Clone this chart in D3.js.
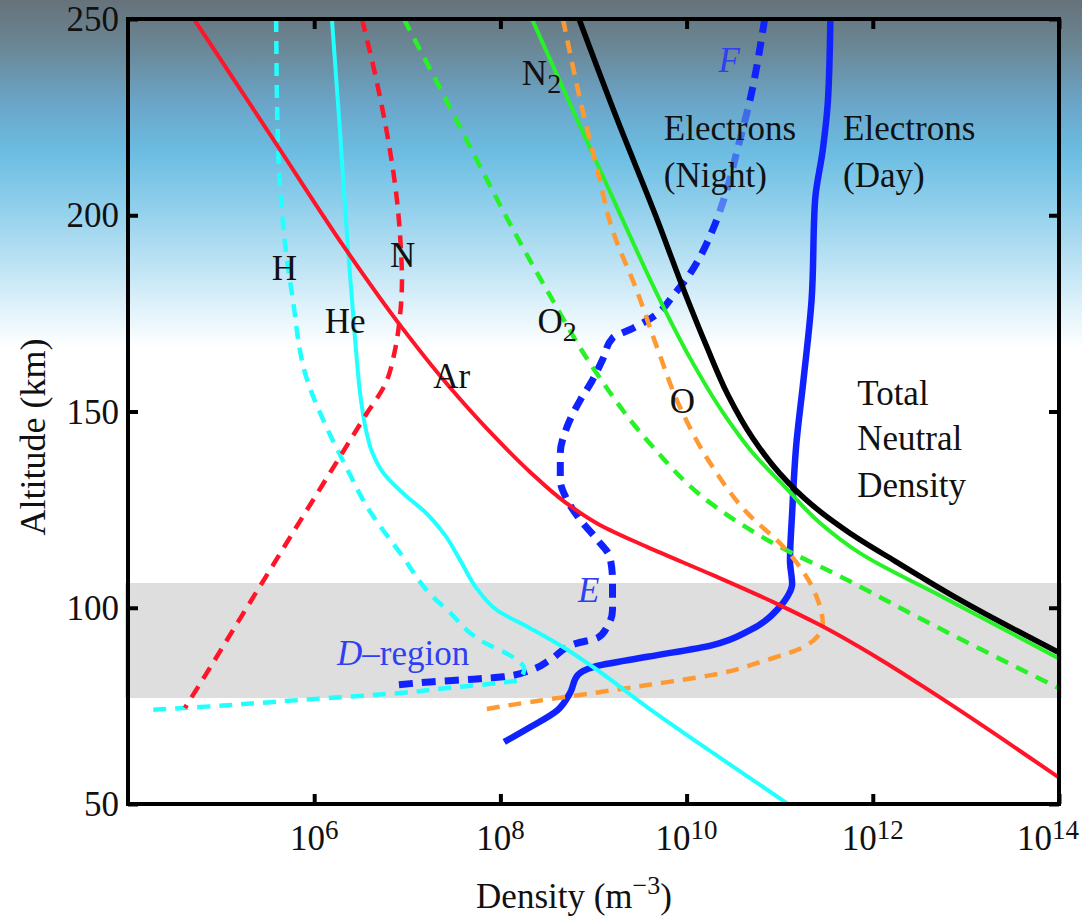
<!DOCTYPE html>
<html><head><meta charset="utf-8">
<script src="https://cdn.jsdelivr.net/npm/d3@7"></script>
<style>
body{margin:0;background:#fff}
svg{display:block}
svg text{font-family:"Liberation Serif","Times New Roman",Times,"DejaVu Serif",serif;fill:#111}
</style>
</head><body>
<svg id="chart" width="1082" height="919" font-family="Liberation Serif, Times New Roman, serif"></svg>
<script>
// ---------------- DATA (altitude km, density m^-3) ----------------
const hAlt  = [250,216.6,201.3,188.6,179.7,158.0,145.3,135.9,125.7,113.9,102.7,99.4,91.8,87.2,84.6,81.6,80.8,79.6,78.3,76.5,74.7,73.9];
const hDens = [3.9e5,4.1e5,4.5e5,5.1e5,5.8e5,8.4e5,1.4e6,2.2e6,3.7e6,8.4e6,1.9e7,2.7e7,6.0e7,1.4e8,1.8e8,1.6e8,9.2e7,2.9e7,8.4e6,7.0e5,5.9e4,1.6e4];

const heAlt  = [250,221.7,191.1,178.4,165.7,152.9,145.3,139.7,133.8,128.7,124.4,118.5,112.2,104.5,99.4,94.8,90.0,84.9,74.7,63.0,50];
const heDens = [1.55e6,1.89e6,2.31e6,2.55e6,2.81e6,3.18e6,3.6e6,4.18e6,5.75e6,9.44e6,1.55e7,2.54e7,3.68e7,5.74e7,9.18e7,2.08e8,4.7e8,9.89e8,3.76e9,1.92e10,1.23e11];

const nAlt  = [250,233.7,220.9,203.9,191.1,183.5,174.6,165.7,156.8,149.6,136.4,122.9,109.6,96.4,83.1,74.5];
const nDens = [3.26e6,4.73e6,6.05e6,7.74e6,8.55e6,8.77e6,8.36e6,7.38e6,5.75e6,3.69e6,1.67e6,7.4e5,3.35e5,1.52e5,6.89e4,4.09e4];

const arAlt  = [250,217.9,191.6,172.0,157.0,144.8,134.6,126.9,121.1,115.5,108.3,101.0,95.6,86.9,78.3,56.9];
const arDens = [5.1e4,3.98e5,2.14e6,8.36e6,2.67e7,7.73e7,2.08e8,4.94e8,1.17e9,3.76e9,1.92e10,9.35e10,2.71e11,1.19e12,4.44e12,9.75e13];

const o2Alt  = [250,229.9,212.5,196.5,180.9,159.6,142.7,126.2,115.5,108.9,95.6,79.6];
const o2Dens = [9.2e6,2.54e7,6.04e7,1.36e8,3.16e8,1.09e9,3.76e9,1.92e10,1.01e11,3.74e11,4.44e12,9.75e13];

const oAlt  = [250,229.4,211.5,196.2,181.0,166.4,151.1,135.9,124.1,115.5,102.7,96.1,92.5,89.7,86.7,82.9,80.3,77.8,76.0,73.9];
const oDens = [4.7e8,7.2e8,1.1e9,1.6e9,2.9e9,4.8e9,8.5e9,1.9e10,4.5e10,1.1e11,2.5e11,2.9e11,2.5e11,1.7e11,7.3e10,1.9e10,3.8e9,7.2e8,2.1e8,6.0e7];

const n2Alt  = [250,225.0,200.3,178.4,163.6,150.1,139.7,130.8,121.6,113.9,102.7,87.2];
const n2Dens = [2.18e8,6.49e8,1.93e9,5.18e9,1.09e10,2.4e10,5.04e10,1.14e11,2.71e11,7.28e11,5.68e12,9.75e13];

const totAlt  = [250,224.5,200.3,180.2,166.9,154.2,143.5,134.1,126.2,119.0,111.9,102.0,88.7];
const totDens = [7.0e8,1.79e9,4.58e9,9.6e9,1.62e10,2.78e10,5.04e10,1.01e11,2.22e11,5.69e11,1.73e12,8.65e12,9.75e13];

const nightAlt  = [250,229.4,216.6,206.4,196.2,189.5,185.3,179.4,174.8,171.3,168.7,163.4,157.7,152.9,146.1,139.4,132.5,127.5,122.4,117.3,112.9,107.1,99.4,95.1,92.3,91.0,86.7,84.1,82.4,81.8,81.1,80.3];
const nightDens = [6.9e10,4.8e10,3.5e10,2.7e10,1.9e10,1.4e10,1.1e10,7.1e9,4.8e9,2.7e9,1.6e9,1.26e9,9.6e8,7.2e8,5.2e8,4.4e8,4.4e8,5.2e8,7.2e8,1.1e9,1.5e9,1.6e9,1.6e9,1.4e9,1.1e9,6.7e8,3.4e8,2.1e8,1.07e8,5.1e7,1.75e7,7.7e6];

const dayAlt  = [250,229.4,216.6,203.9,178.4,158.0,141.0,124.1,112.0,106.0,102.7,100.2,94.3,90.5,87.5,84.9,82.9,78.3,73.9,69.6,65.8];
const dayDens = [3.5e11,3.3e11,2.9e11,2.4e11,2.2e11,1.8e11,1.5e11,1.36e11,1.29e11,1.36e11,1.2e11,1.0e11,4.8e10,1.9e10,3.8e9,9.9e8,6.8e8,5.6e8,4.1e8,2.1e8,1.1e8];

const xTicks = [1e6,1e8,1e10,1e12,1e14];
const xTickExp = ["6","8","10","12","14"];
const yTicks = [50,100,150,200,250];
const dRegion = [77.0,106.3];

// ---------------- LAYOUT ----------------
const FONT = '"Liberation Serif","Times New Roman",Times,"DejaVu Serif",serif';
const W = 1082, H = 919;
const L = 128, R = 1059, T = 19, B = 804;
const svg = d3.select("#chart");
const x = d3.scaleLog().domain([1e4,1e14]).range([L,R]);
const y = d3.scaleLinear().domain([50,250]).range([B,T]);

const defs = svg.append("defs");
const g = defs.append("linearGradient").attr("id","sky").attr("x1",0).attr("y1",0).attr("x2",0).attr("y2",1);
[[0,"#66727a"],[0.13,"#6a8694"],[0.3,"#6aa6c9"],[0.44,"#6cbde2"],[0.6,"#92d0ec"],[0.76,"#bde3f4"],[0.9,"#e4f4fb"],[1,"#ffffff"]]
 .forEach(([o,c])=>g.append("stop").attr("offset",o).attr("stop-color",c));
defs.append("clipPath").attr("id","plotclip").append("rect").attr("x",L).attr("y",T).attr("width",R-L).attr("height",B-T);
const m = defs.append("mask").attr("id","nightmask").attr("maskUnits","userSpaceOnUse").attr("x",0).attr("y",0).attr("width",W).attr("height",H);
m.append("rect").attr("width",W).attr("height",H).attr("fill","#fff");
m.append("rect").attr("x",656).attr("y",104).attr("width",150).attr("height",110).attr("fill","#777");

svg.append("rect").attr("width",W).attr("height",H).attr("fill","#fff");
svg.append("rect").attr("width",W).attr("height",348).attr("fill","url(#sky)");

// D-region band
svg.append("rect").attr("x",L-3).attr("width",R-L+6)
  .attr("y",y(dRegion[1])).attr("height",y(dRegion[0])-y(dRegion[1])).attr("fill","#dedede");

const plot = svg.append("g").attr("clip-path","url(#plotclip)");
const line = d3.line().x(d=>x(d[1])).y(d=>y(d[0])).curve(d3.curveMonotoneY);
const zip = (a,b)=>a.map((v,i)=>[v,b[i]]);

const series = [
  {alt:nightAlt,dens:nightDens,color:"#1023ff",w:7,dash:"14,9",mask:true},
  {alt:dayAlt,dens:dayDens,color:"#1023ff",w:6.5},
  {alt:totAlt,dens:totDens,color:"#000",w:5.5},
  {alt:n2Alt,dens:n2Dens,color:"#27f227",w:4},
  {alt:o2Alt,dens:o2Dens,color:"#27f227",w:4.5,dash:"13,9"},
  {alt:oAlt,dens:oDens,color:"#ff9a33",w:4.5,dash:"13,9"},
  {alt:hAlt,dens:hDens,color:"#22ffff",w:4.5,dash:"13,9"},
  {alt:heAlt,dens:heDens,color:"#22ffff",w:4},
  {alt:nAlt,dens:nDens,color:"#ff1428",w:4.5,dash:"13,9"},
  {alt:arAlt,dens:arDens,color:"#ff1428",w:4}
];
series.forEach(s=>{
  const p = plot.append("path").datum(zip(s.alt,s.dens)).attr("d",line)
    .attr("fill","none").attr("stroke",s.color).attr("stroke-width",s.w)
    .attr("stroke-dasharray",s.dash||null);
  if(s.mask) p.attr("mask","url(#nightmask)");
});

// ---------------- AXES ----------------
const axB = svg.append("g").attr("transform",`translate(0,${B})`)
  .call(d3.axisBottom(x).tickValues(xTicks).tickSizeInner(-10).tickSizeOuter(0).tickFormat(""));
const axT = svg.append("g").attr("transform",`translate(0,${T})`)
  .call(d3.axisTop(x).tickValues(xTicks).tickSizeInner(-10).tickSizeOuter(0).tickFormat(""));
const axL = svg.append("g").attr("transform",`translate(${L},0)`)
  .call(d3.axisLeft(y).tickValues(yTicks).tickSizeInner(-10).tickSizeOuter(0).tickFormat(""));
const axR = svg.append("g").attr("transform",`translate(${R},0)`)
  .call(d3.axisRight(y).tickValues(yTicks).tickSizeInner(-10).tickSizeOuter(0).tickFormat(""));
[axB,axT,axL,axR].forEach(a=>{a.select(".domain").remove();a.selectAll("line").attr("stroke","#000").attr("stroke-width",4);});
svg.append("rect").attr("x",L).attr("y",T).attr("width",R-L).attr("height",B-T)
  .attr("fill","none").attr("stroke","#000").attr("stroke-width",4);

const txt = (sel)=>sel.append("text").style("font-family",FONT).style("fill","#111");

// x tick labels 10^n
xTicks.forEach((v,i)=>{
  const last = i===xTicks.length-1;
  const t = txt(svg).attr("x",last?1079:x(v)).attr("y",850).attr("text-anchor",last?"end":"middle").style("font-size","35px");
  t.append("tspan").text("10");
  t.append("tspan").text(xTickExp[i]).attr("dy",-11).style("font-size","27px");
});
// y tick labels
yTicks.forEach(v=>{
  txt(svg).attr("x",119).attr("y",y(v)+12).attr("text-anchor","end").style("font-size","35px").text(v);
});
// axis titles
const xt = txt(svg).attr("x",574).attr("y",908).attr("text-anchor","middle").style("font-size","35px");
xt.append("tspan").text("Density (m");
xt.append("tspan").text("−3").attr("dy",-14).style("font-size","26px");
xt.append("tspan").text(")").attr("dy",14);
txt(svg).attr("transform","translate(45,437) rotate(-90)").attr("text-anchor","middle").style("font-size","36px").text("Altitude (km)");

// ---------------- LABELS (anchored in data space) ----------------
const labels = [
  {t:"H",d:3.5e5,a:183.5},{t:"He",d:1.3e6,a:170.0},{t:"N",d:6.5e6,a:186.8},{t:"Ar",d:1.9e7,a:156.0},
  {t:"O",d:2.5e8,a:170.0,sub:"2"},{t:"N",d:1.7e8,a:233.2,sub:"2"},{t:"O",d:6.6e9,a:149.6},
  {t:"Electrons",d:5.7e9,a:219.2},{t:"(Night)",d:5.7e9,a:207.2},
  {t:"Electrons",d:4.8e11,a:219.2},{t:"(Day)",d:4.8e11,a:207.2},
  {t:"Total",d:6.8e11,a:151.7},{t:"Neutral",d:6.8e11,a:140.2},{t:"Density",d:6.8e11,a:128.2}
];
labels.forEach(l=>{
  const t = txt(svg).attr("x",x(l.d)).attr("y",y(l.a)).style("font-size","35px");
  t.append("tspan").text(l.t);
  if(l.sub) t.append("tspan").text(l.sub).attr("dy",8).style("font-size","28px");
});
const blueLabels = [{t:"F",d:2.2e10,a:236.6},{t:"E",d:6.8e8,a:101.5}];
blueLabels.forEach(l=>{
  txt(svg).attr("x",x(l.d)).attr("y",y(l.a)).style("font-size","35px").style("font-style","italic")
    .style("fill","#2f3ff2").text(l.t);
});
const dr = txt(svg).attr("x",x(1.76e6)).attr("y",y(85.4)).style("font-size","35px").style("fill","#2f3ff2");
dr.append("tspan").text("D").style("font-style","italic");
dr.append("tspan").text("–region");
</script>
</body></html>
